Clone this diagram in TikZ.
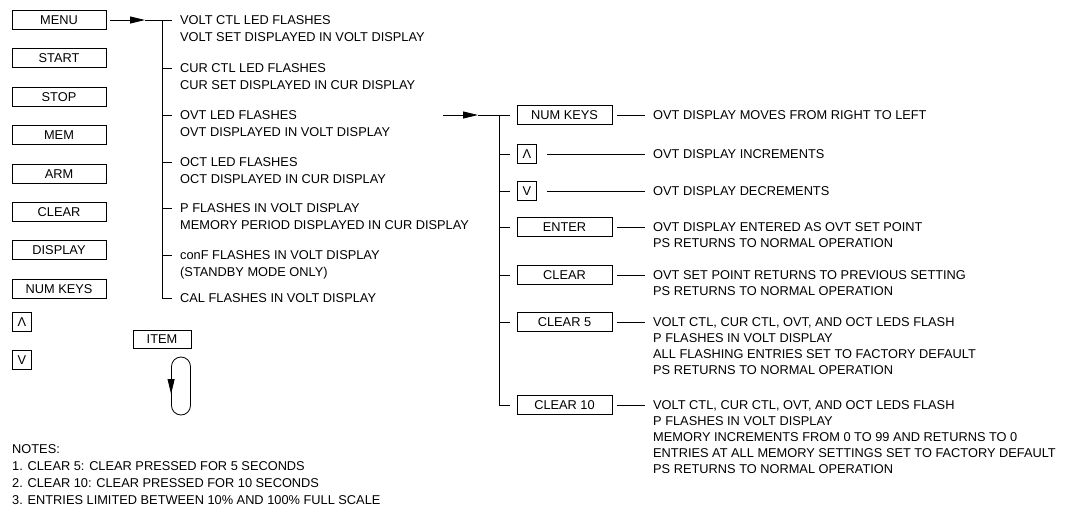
\documentclass[tikz,border=0pt]{standalone}
\usepackage{fontspec}
\setmainfont{Liberation Sans}
\usetikzlibrary{arrows.meta,positioning}
\newcommand{\keyfont}{\fontsize{12.8}{17}\selectfont}
\newcommand{\rowfont}{\fontsize{12.8}{16}\selectfont}

\begin{document}
\begin{tikzpicture}[x=1pt, y=-1pt,
  key/.style={draw, line width=0.9pt, minimum width=94pt, minimum height=19pt, inner sep=0pt, font=\keyfont},
  sq/.style={key, minimum width=19pt},
  txt/.style={anchor=north west, align=left, inner sep=0pt, font=\keyfont},
  rtxt/.style={txt, font=\rowfont},
  ln/.style={line width=0.8pt},
  arr/.style={ln, -{Triangle[length=15pt, width=7pt]}}]
\useasboundingbox (0,0) rectangle (1070,514);
% key column
\node[key] (menu) at (59,20) {MENU};
\node[key, below=18.5pt of menu] (start) {START};
\node[key, below=18.5pt of start] (stop) {STOP};
\node[key, below=18.5pt of stop] (mem) {MEM};
\node[key, below=18.5pt of mem] (arm) {ARM};
\node[key, below=18.5pt of arm] (clear) {CLEAR};
\node[key, below=18.5pt of clear] (display) {DISPLAY};
\node[key, below=18.5pt of display] (numkeys) {NUM KEYS};
\node[sq] (up) at (22,322) {Λ};
\node[sq] (down) at (22,360) {V};
% item loop
\node[key, minimum width=58pt, minimum height=18pt] (item) at (162,339) {ITEM};
\node[draw, ln, rounded corners=9.5pt, minimum width=19pt, minimum height=58pt] (loop) at (181,386) {};
\draw[arr] ([yshift=8pt]loop.west) -- ([yshift=-8pt]loop.west);
% menu branch
\node[txt] (volt) at (180,15.4) {VOLT CTL LED FLASHES\\VOLT SET DISPLAYED IN VOLT DISPLAY};
\node[txt] (cur) at (180,63.4) {CUR CTL LED FLASHES\\CUR SET DISPLAYED IN CUR DISPLAY};
\node[txt] (ovt) at (180,110.4) {OVT LED FLASHES\\OVT DISPLAYED IN VOLT DISPLAY};
\node[txt] (oct) at (180,157.4) {OCT LED FLASHES\\OCT DISPLAYED IN CUR DISPLAY};
\node[txt] (pfl) at (180,203.4) {P FLASHES IN VOLT DISPLAY\\MEMORY PERIOD DISPLAYED IN CUR DISPLAY};
\node[txt] (conf) at (180,250.4) {conF FLASHES IN VOLT DISPLAY\\(STANDBY MODE ONLY)};
\node[txt] (cal) at (180,293.4) {CAL FLASHES IN VOLT DISPLAY};
\coordinate (ma) at (145,20);
\coordinate (lt) at (162,20);
\draw[arr] ([xshift=4pt]menu.east) -- (ma);
\draw[ln] (ma) -- ([xshift=-8pt,yshift=-4.6pt]volt.north west);
\draw[ln] (lt) |- ([xshift=-8pt,yshift=-4.6pt]cal.north west);
\draw[ln] ([xshift=-18pt,yshift=-4.6pt]cur.north west) -- ++(10,0);
\draw[ln] ([xshift=-18pt,yshift=-4.6pt]ovt.north west) -- ++(10,0);
\draw[ln] ([xshift=-18pt,yshift=-4.6pt]oct.north west) -- ++(10,0);
\draw[ln] ([xshift=-18pt,yshift=-4.6pt]pfl.north west) -- ++(10,0);
\draw[ln] ([xshift=-18pt,yshift=-4.6pt]conf.north west) -- ++(10,0);
% ovt branch
\node[key, minimum width=95pt] (rnum) at (564.5,115) {NUM KEYS};
\node[sq] (rup) at (527,154) {Λ};
\node[sq] (rdown) at (527,191) {V};
\node[key, minimum width=95pt] (enter) at (564.5,227) {ENTER};
\node[key, minimum width=95pt] (rclear) at (564.5,275) {CLEAR};
\node[key, minimum width=95pt] (clearfive) at (564.5,322) {CLEAR 5};
\node[key, minimum width=95pt] (clearten) at (564.5,405) {CLEAR 10};
\coordinate (os) at (443,115);
\coordinate (oa) at (478,115);
\coordinate (rt) at (499,115);
\draw[arr] (os) -- (oa);
\draw[ln] (oa) -- ([xshift=-7pt]rnum.west);
\draw[ln] (rt) |- ([xshift=-7pt]clearten.west);
\draw[ln] (rt |- rup) -- ([xshift=-7pt]rup.west);
\draw[ln] (rt |- rdown) -- ([xshift=-7pt]rdown.west);
\draw[ln] (rt |- enter) -- ([xshift=-7pt]enter.west);
\draw[ln] (rt |- rclear) -- ([xshift=-7pt]rclear.west);
\draw[ln] (rt |- clearfive) -- ([xshift=-7pt]clearfive.west);
% results
\node[rtxt] (mv) at (653,110.4) {OVT DISPLAY MOVES FROM RIGHT TO LEFT};
\node[rtxt] (inc) at (653,149.4) {OVT DISPLAY INCREMENTS};
\node[rtxt] (dec) at (653,186.4) {OVT DISPLAY DECREMENTS};
\node[rtxt] (ent) at (653,222.4) {OVT DISPLAY ENTERED AS OVT SET POINT\\PS RETURNS TO NORMAL OPERATION};
\node[rtxt] (clr) at (653,270.4) {OVT SET POINT RETURNS TO PREVIOUS SETTING\\PS RETURNS TO NORMAL OPERATION};
\node[rtxt] (cfive) at (653,317.4) {VOLT CTL, CUR CTL, OVT, AND OCT LEDS FLASH\\P FLASHES IN VOLT DISPLAY\\ALL FLASHING ENTRIES SET TO FACTORY DEFAULT\\PS RETURNS TO NORMAL OPERATION};
\node[rtxt] (cten) at (653,400.4) {VOLT CTL, CUR CTL, OVT, AND OCT LEDS FLASH\\P FLASHES IN VOLT DISPLAY\\MEMORY INCREMENTS FROM 0 TO 99 AND RETURNS TO 0\\ENTRIES AT ALL MEMORY SETTINGS SET TO FACTORY DEFAULT\\PS RETURNS TO NORMAL OPERATION};
\draw[ln] ([xshift=5pt]rnum.east) -- ([xshift=-8pt,yshift=-4.6pt]mv.north west);
\draw[ln] ([xshift=10pt]rup.east) -- ([xshift=-8pt,yshift=-4.6pt]inc.north west);
\draw[ln] ([xshift=10pt]rdown.east) -- ([xshift=-8pt,yshift=-4.6pt]dec.north west);
\draw[ln] ([xshift=5pt]enter.east) -- ([xshift=-8pt,yshift=-4.6pt]ent.north west);
\draw[ln] ([xshift=5pt]rclear.east) -- ([xshift=-8pt,yshift=-4.6pt]clr.north west);
\draw[ln] ([xshift=5pt]clearfive.east) -- ([xshift=-8pt,yshift=-4.6pt]cfive.north west);
\draw[ln] ([xshift=5pt]clearten.east) -- ([xshift=-8pt,yshift=-4.6pt]cten.north west);
% notes
\node[txt] (notes) at (12,444.4) {NOTES:\\1. CLEAR 5: CLEAR PRESSED FOR 5 SECONDS\\2. CLEAR 10: CLEAR PRESSED FOR 10 SECONDS\\3. ENTRIES LIMITED BETWEEN 10\% AND 100\% FULL SCALE};
\end{tikzpicture}
\end{document}
